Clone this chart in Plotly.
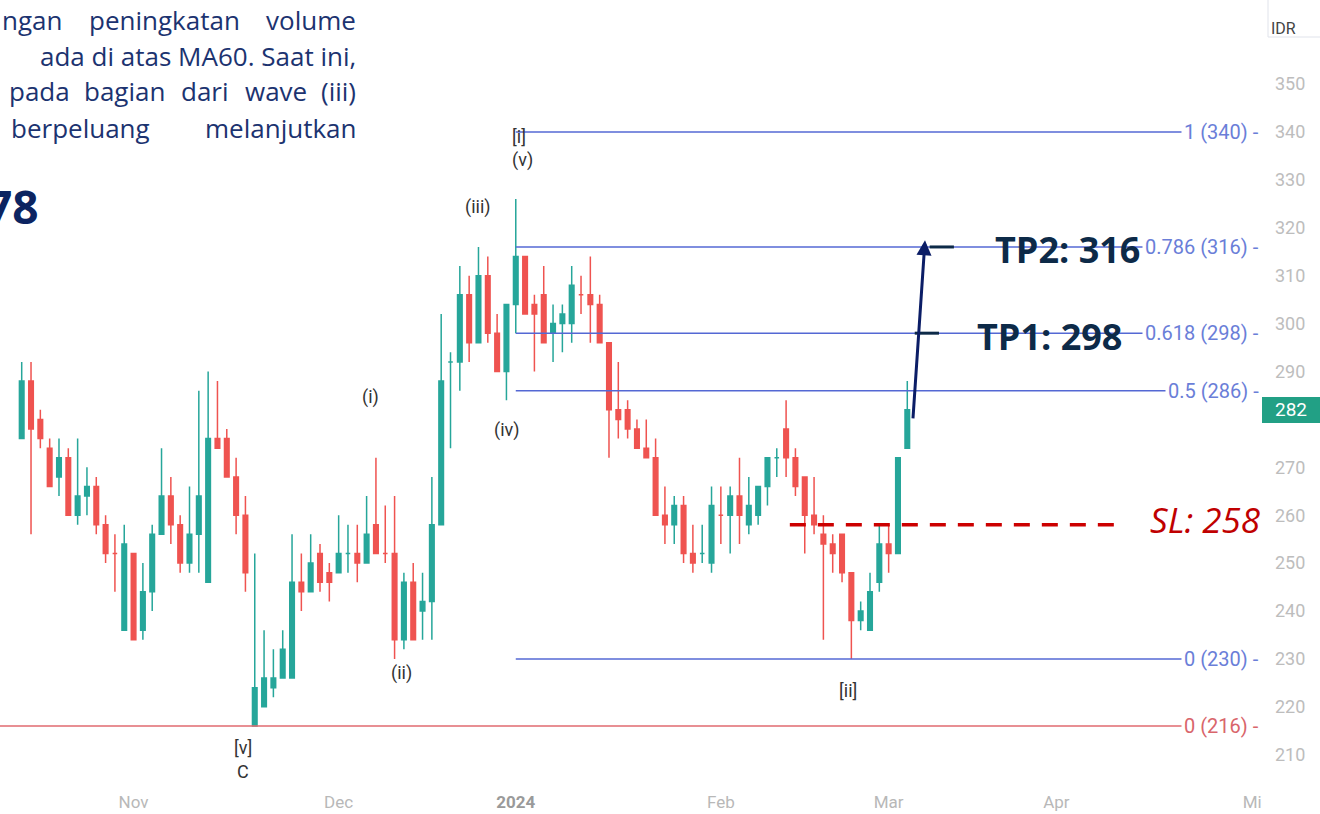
import plotly.graph_objects as go

# ---------------- data (daily candles, mid-Oct 2023 .. 5 Mar 2024) ----------------
opens = [276, 288, 280, 274, 268, 272, 260, 264, 266, 258, 252, 236, 252, 236, 244, 256,
         264, 258, 250, 256, 246, 276, 276, 268, 260, 216, 220, 224, 226, 226, 246, 244,
         252, 248, 248, 252, 252, 250, 258, 252, 252, 234, 246, 240, 242, 258, 292, 292,
         306, 296, 310, 298, 290, 304, 314, 304, 306, 298, 300, 300, 306, 306, 304, 296,
         282, 282, 278, 274, 272, 260, 258, 262, 252, 252, 250, 260, 260, 264, 258, 260,
         266, 272, 278, 272, 268, 260, 256, 254, 256, 248, 238, 236, 246, 254, 252, 274]
highs = [292, 292, 282, 276, 276, 274, 276, 270, 268, 260, 256, 258, 252, 250, 258, 274,
         268, 260, 266, 286, 290, 288, 278, 272, 264, 252, 236, 232, 236, 256, 252, 256,
         254, 250, 260, 258, 258, 264, 272, 262, 264, 248, 250, 248, 268, 302, 294, 312,
         310, 316, 314, 302, 304, 326, 314, 306, 312, 304, 304, 312, 310, 314, 306, 296,
         292, 284, 280, 280, 276, 266, 264, 264, 258, 258, 266, 266, 266, 272, 268, 266,
         272, 274, 284, 274, 268, 268, 260, 256, 256, 248, 242, 248, 258, 258, 272, 288]
lows = [276, 256, 274, 266, 264, 260, 258, 260, 256, 250, 244, 236, 234, 234, 240, 256,
        254, 248, 248, 248, 246, 274, 268, 256, 244, 216, 220, 222, 226, 226, 240, 244,
        244, 242, 248, 248, 246, 250, 252, 250, 230, 232, 234, 234, 234, 258, 274, 286,
        292, 296, 296, 290, 284, 298, 302, 290, 296, 292, 294, 296, 302, 296, 296, 272,
        276, 276, 274, 272, 260, 254, 254, 250, 248, 250, 248, 254, 252, 254, 256, 258,
        262, 268, 268, 264, 252, 256, 234, 248, 246, 230, 236, 236, 244, 248, 252, 274]
closes = [288, 278, 276, 266, 272, 260, 264, 266, 258, 252, 252, 254, 234, 244, 256, 264,
          258, 250, 256, 264, 276, 274, 268, 260, 248, 224, 226, 226, 232, 246, 244, 250,
          246, 246, 252, 252, 250, 256, 252, 252, 234, 246, 234, 242, 258, 288, 292, 306,
          296, 310, 298, 290, 304, 314, 302, 302, 296, 300, 302, 308, 306, 304, 296, 282,
          280, 278, 274, 272, 260, 258, 262, 252, 250, 252, 262, 260, 264, 260, 262, 266,
          272, 272, 272, 266, 260, 258, 254, 252, 248, 238, 240, 244, 254, 252, 272, 282]
bar_index = list(range(len(opens)))

month_ticks = [12, 34, 53, 75, 93, 111, 132]
month_labels = ["Nov", "Dec", "<span style='color:#9a9a9a'><b>2024</b></span>",
                "Feb", "Mar", "Apr", "Mi"]
# 280 sits under the last-price tag
price_ticks = [210, 220, 230, 240, 250, 260, 270, 290, 300, 310, 320, 330, 340, 350]

# Fibonacci retracement ([ii] low 230 -> [i] high 340) and the C-low fib (216)
fib_levels = [1, 0.786, 0.618, 0.5, 0]
fib_prices = [340, 316, 298, 286, 230]
fib_start_bar = 53
fibc_levels = [0]
fibc_prices = [216]

# Elliott wave labels
wave_text = ["[v]", "C", "(i)", "(ii)", "(iii)", "(iv)", "[i]", "(v)", "[ii]"]
wave_bar = [23.7, 23.7, 37.4, 40.7, 48.9, 52.1, 53.4, 53.7, 88.6]
wave_price = [211.4, 206.4, 284.7, 227.1, 324.3, 277.8, 339.0, 334.2, 223.5]

# Trading plan
last_price = 282
tp_names = ["TP1", "TP2"]
tp_prices = [298, 316]
sl_price = 258

# cropped, justified article paragraph (words per line)
article_line1 = ["ngan", "peningkatan", "volume"]
article_line2 = ["ada di atas MA60. Saat ini,"]
article_line3 = ["pada", "bagian", "dari", "wave", "(iii)"]
article_line4 = ["berpeluang", "melanjutkan"]
article_number = "78"

# ---------------- styling ----------------
TEAL = "#26a69a"
RED = "#ef5350"
FIB_BLUE = "#5468d4"
FIB_BLUE_TXT = "#6a7ed8"
FIB_RED = "#e06a6f"
NAVY = "#0d2a48"
ARROW = "#0b1d66"
W, H = 1320, 814
ML, MR, MT, MB = 0, 58, 0, 24
PW, PH = W - ML - MR, H - MT - MB


def px_x(px):
    return (px - ML) / PW


def px_y(py):
    return (PH + MT - py) / PH


fig = go.Figure()
fig.add_trace(go.Candlestick(
    x=bar_index, open=opens, high=highs, low=lows, close=closes,
    increasing=dict(line=dict(color=TEAL, width=1.5), fillcolor=TEAL),
    decreasing=dict(line=dict(color=RED, width=1.5), fillcolor=RED),
    whiskerwidth=0, showlegend=False, hoverinfo="skip"))

shapes = []
annotations = []

# fib lines + labels
for lvl, price in zip(fib_levels, fib_prices):
    shapes.append(dict(type="line", xref="x", yref="y", x0=fib_start_bar, x1=130,
                       y0=price, y1=price, line=dict(color=FIB_BLUE, width=1.5)))
    annotations.append(dict(xref="paper", yref="y", x=1.0, y=price, xanchor="right",
                            yanchor="middle", showarrow=False, bgcolor="white", borderpad=2,
                            text=f"{lvl:g} ({price}) -",
                            font=dict(family="Roboto", size=20, color=FIB_BLUE_TXT)))
for lvl, price in zip(fibc_levels, fibc_prices):
    shapes.append(dict(type="line", xref="x", yref="y", x0=-5, x1=130,
                       y0=price, y1=price, line=dict(color=FIB_RED, width=1.5)))
    annotations.append(dict(xref="paper", yref="y", x=1.0, y=price, xanchor="right",
                            yanchor="middle", showarrow=False, bgcolor="white", borderpad=2,
                            text=f"{lvl:g} ({price}) -",
                            font=dict(family="Roboto", size=20, color="#d9656b")))

# wave labels
for t, xb, yp in zip(wave_text, wave_bar, wave_price):
    annotations.append(dict(xref="x", yref="y", x=xb, y=yp, text=t, showarrow=False,
                            font=dict(family="Roboto", size=18, color="#333333")))

# SL dashed line
shapes.append(dict(type="line", xref="x", yref="y", x0=82.4, x1=117.3, y0=sl_price,
                   y1=sl_price, line=dict(color="#cc0000", width=3.5, dash="16px,12px")))
annotations.append(dict(xref="paper", yref="y", x=px_x(1262), y=sl_price + 1.2,
                        xanchor="right", yanchor="middle", showarrow=False,
                        text=f"<i>SL: {sl_price}</i>",
                        font=dict(family="Open Sans", size=35, color="#c00000")))

# TP ticks + labels
tp_tick_x = [(95.8, 98.4), (97.4, 100.0)]
tp_text_px = [975, 993]
for name, price, (a, b), tx in zip(tp_names, tp_prices, tp_tick_x, tp_text_px):
    shapes.append(dict(type="line", xref="x", yref="y", x0=a, x1=b, y0=price, y1=price,
                       line=dict(color=NAVY, width=3)))
    annotations.append(dict(xref="paper", yref="y", x=px_x(tx), y=price - 0.6,
                            xanchor="left", yanchor="middle", showarrow=False,
                            text=f"<b>{name}: {price}</b>",
                            font=dict(family="Open Sans", size=36, color=NAVY)))

# arrow from the last candle up to TP2
annotations.append(dict(xref="x", yref="y", axref="x", ayref="y", x=96.9, y=317.4,
                        ax=95.6, ay=279.9, showarrow=True, arrowhead=2, arrowsize=1,
                        arrowwidth=3, arrowcolor=ARROW, text=""))

# last price tag
shapes.append(dict(type="rect", xref="paper", yref="paper", x0=1.0, x1=px_x(1322),
                   y0=px_y(423), y1=px_y(397), fillcolor="#22a085", line=dict(width=0),
                   layer="above"))
annotations.append(dict(xref="paper", yref="y", x=px_x(1309), y=last_price,
                        xanchor="right", text=str(last_price), showarrow=False,
                        font=dict(family="Roboto", size=19, color="white")))

# IDR button
shapes.append(dict(type="rect", xref="paper", yref="paper", x0=px_x(1268), x1=px_x(1330),
                   y0=px_y(37), y1=px_y(-10), fillcolor="white",
                   line=dict(color="#e0e3eb", width=1)))
annotations.append(dict(xref="paper", yref="paper", x=px_x(1298), y=px_y(17), text="IDR",
                        showarrow=False, font=dict(family="Roboto", size=16, color="#444444")))

# article text (cropped, justified paragraph at top-left)
ART = "#1c3370"
AFONT = dict(family="Open Sans", size=26, color=ART)
# (words, pixel anchors, anchor modes, centre y)
line_specs = [
    (article_line1, [0, 164, 358], ["left", "center", "right"], 20),
    (article_line2, [358], ["right"], 56),
    (article_line3, [7, 124, 205, 276, 358], ["left", "center", "center", "center", "right"], 91),
    (article_line4, [152, 358], ["right", "right"], 128),
]
for words, xs, anchors, cy in line_specs:
    for word, xp, anc in zip(words, xs, anchors):
        annotations.append(dict(xref="paper", yref="paper", x=px_x(xp), y=px_y(cy),
                                xanchor=anc, yanchor="middle", showarrow=False,
                                text=word, font=AFONT))
annotations.append(dict(xref="paper", yref="paper", x=px_x(41), y=px_y(206),
                        xanchor="right", yanchor="middle", showarrow=False,
                        text=f"<b>{article_number}</b>",
                        font=dict(family="Open Sans", size=46, color="#0c2461")))

x_left = -21.7 / 9.322
x_right = (PW - 21.7) / 9.322
y_top = 350 + (84.1 - MT) / 4.79
y_bot = 350 - (MT + PH - 84.1) / 4.79

fig.update_layout(
    width=W, height=H, margin=dict(l=ML, r=MR, t=MT, b=MB),
    paper_bgcolor="white", plot_bgcolor="white", showlegend=False,
    boxgap=0.3, boxgroupgap=0.3,
    xaxis=dict(range=[x_left, x_right], tickvals=month_ticks, ticktext=month_labels,
               showgrid=False, zeroline=False, showline=False, ticks="",
               tickfont=dict(family="Roboto", size=17, color="#b8b8b8"),
               rangeslider=dict(visible=False)),
    yaxis=dict(range=[y_bot, y_top], side="right", tickvals=price_ticks,
               showgrid=False, zeroline=False, showline=False, ticks="",
               ticklabelstandoff=12,
               tickfont=dict(family="Roboto", size=18, color="#bdbdbd")),
    shapes=shapes, annotations=annotations,
)

fig.write_html("out.html", config={"displayModeBar": False},
               post_script="document.body.style.margin='0px';")
